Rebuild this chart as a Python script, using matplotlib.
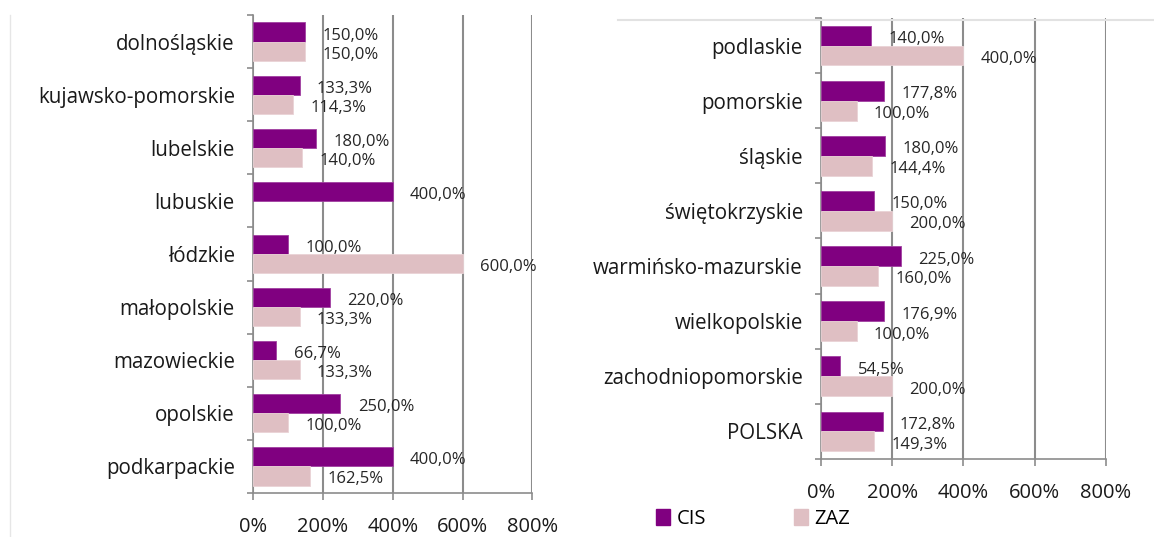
import numpy as np
import matplotlib.pyplot as plt
from matplotlib.lines import Line2D
from matplotlib.patches import Patch

plt.rcParams['font.family'] = ['Open Sans', 'DejaVu Sans']

woj_lewe = ['dolnośląskie', 'kujawsko-pomorskie', 'lubelskie', 'lubuskie', 'łódzkie',
            'małopolskie', 'mazowieckie', 'opolskie', 'podkarpackie']
cis_lewe = [150.0, 133.3, 180.0, 400.0, 100.0, 220.0, 66.7, 250.0, 400.0]
zaz_lewe = [150.0, 114.3, 140.0, np.nan, 600.0, 133.3, 133.3, 100.0, 162.5]

woj_prawe = ['podlaskie', 'pomorskie', 'śląskie', 'świętokrzyskie', 'warmińsko-mazurskie',
             'wielkopolskie', 'zachodniopomorskie', 'POLSKA']
cis_prawe = [140.0, 177.8, 180.0, 150.0, 225.0, 176.9, 54.5, 172.8]
zaz_prawe = [400.0, 100.0, 144.4, 200.0, 160.0, 100.0, 200.0, 149.3]

osie_x = [0, 200, 400, 600, 800]

KOLOR_CIS = '#800080'
KOLOR_ZAZ = '#DFBFC3'
SZARY = '#8C8C8C'


def fmt(v):
    return f'{v:.1f}%'.replace('.', ',')


def panel(ax, nazwy, cis, zaz):
    n = len(nazwy)
    y = np.arange(n)
    h = 0.36
    ax.barh(y - h / 2, cis, height=h, color=KOLOR_CIS, edgecolor='#A040A0', linewidth=0.6, zorder=3)
    ax.barh(y + h / 2, zaz, height=h, color=KOLOR_ZAZ, edgecolor='#EAD3D6', linewidth=0.6, zorder=3)
    for i in range(n):
        for v, dy in ((cis[i], -h / 2), (zaz[i], h / 2)):
            if np.isnan(v):
                continue
            ax.annotate(fmt(v), (v, y[i] + dy), xytext=(12.5, -2.5), textcoords='offset points',
                        ha='left', va='center', fontsize=12, color='#262626', zorder=4)
    ax.set_xlim(0, 800)
    ax.set_ylim(n - 0.5, -0.5)
    ax.set_xticks(osie_x)
    ax.set_xticklabels([f'{t}%' for t in osie_x], fontsize=14.5, color='#1a1a1a')
    ax.set_yticks(y)
    ax.set_yticklabels(nazwy, fontsize=14.8, color='#1a1a1a')
    ax.set_yticks(np.arange(n + 1) - 0.5, minor=True)
    ax.tick_params(axis='y', which='major', length=0, pad=13)
    ax.tick_params(axis='y', which='minor', length=4.5, color=SZARY, width=1.2)
    ax.tick_params(axis='x', length=5, color=SZARY, width=1.2, pad=12)
    ax.grid(axis='x', color=SZARY, linewidth=1.5, zorder=0)
    for s in ('top', 'right'):
        ax.spines[s].set_visible(False)
    for s in ('left', 'bottom'):
        ax.spines[s].set_color(SZARY)
        ax.spines[s].set_linewidth(1.2)


fig = plt.figure(figsize=(11.54, 5.37), dpi=100)
ax1 = fig.add_axes([0.2192, 0.0819, 0.2422, 0.8901])
ax2 = fig.add_axes([0.7114, 0.1453, 0.2470, 0.8212])
panel(ax1, woj_lewe, cis_lewe, zaz_lewe)
panel(ax2, woj_prawe, cis_prawe, zaz_prawe)

# ramki obszarow wykresow
fig.add_artist(Line2D([10 / 1154, 10 / 1154], [0, 1 - 15 / 537], transform=fig.transFigure,
                      color='#E6E6E6', linewidth=1))
fig.add_artist(Line2D([618 / 1154, 1], [1 - 20 / 537] * 2, transform=fig.transFigure,
                      color='#E2E2E2', linewidth=1.5))

uchwyty = [Patch(facecolor=KOLOR_CIS, edgecolor=KOLOR_CIS),
           Patch(facecolor=KOLOR_ZAZ, edgecolor=KOLOR_ZAZ)]
fig.legend(uchwyty, ['CIS', 'ZAZ'], loc='center left', bbox_to_anchor=(638 / 1154, 1 - 519 / 537),
           ncol=2, frameon=False, fontsize=14.5, handlelength=0.7, handleheight=0.85,
           handletextpad=0.3, columnspacing=4.4)

fig.savefig('out.png', dpi=100)
